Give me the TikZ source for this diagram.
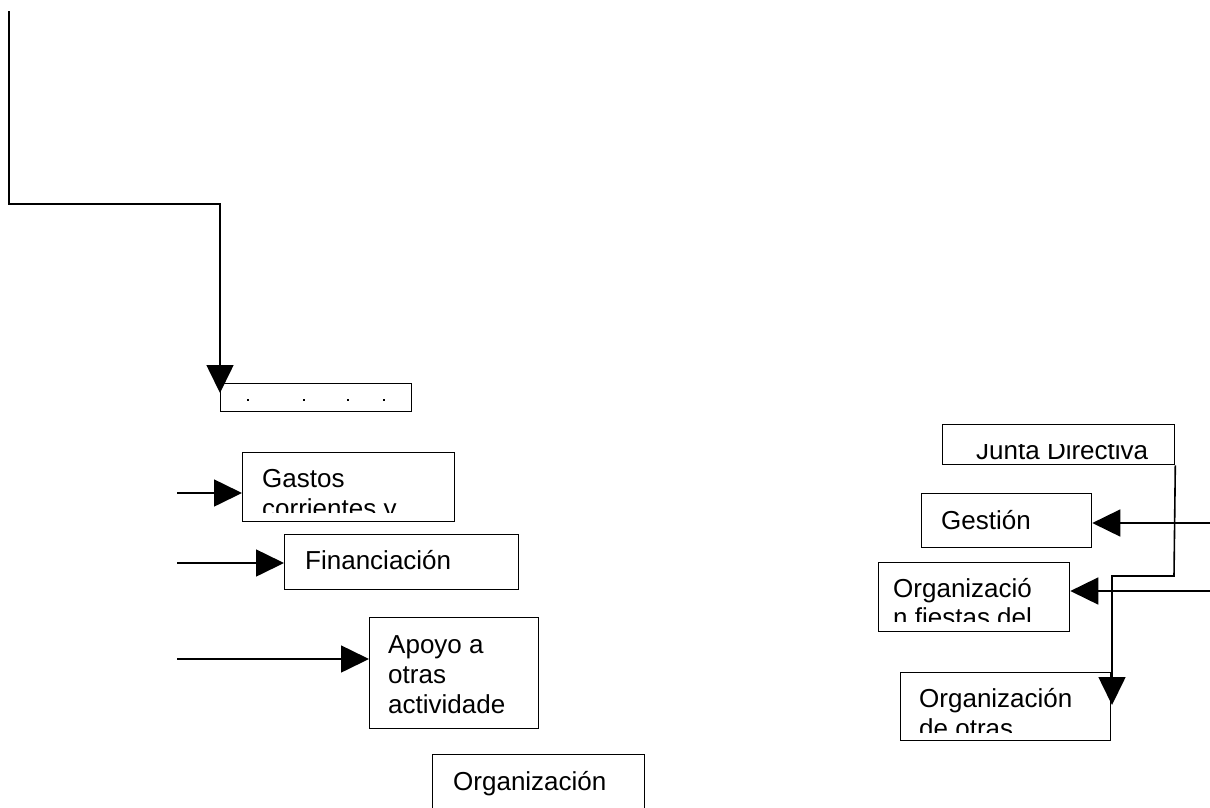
\documentclass[tikz,border=0pt]{standalone}
\usepackage{fontspec}
\setmainfont{Liberation Sans}
\usetikzlibrary{arrows.meta}
\begin{document}
\begin{tikzpicture}[x=1pt,y=-1pt,
  box/.style={draw, line width=1.3pt, inner sep=0pt, anchor=north west},
  lbl/.style={anchor=base west, inner sep=0pt, font=\fontsize{26}{30}\selectfont},
  link/.style={line width=1.6pt},
  arr/.style={link, -{Triangle[length=28pt,width=27pt]}}]
\clip (0,0) rectangle (1210,807);
% boxes
\node[box, minimum width=191pt, minimum height=28pt] (abox) at (220,383) {};
\node[box, minimum width=212pt, minimum height=69pt] (gastos) at (242,452) {};
\node[box, minimum width=234pt, minimum height=55pt] (finan) at (284,534) {};
\node[box, minimum width=169pt, minimum height=111pt] (apoyo) at (369,617) {};
\node[box, minimum width=212pt, minimum height=80pt] (orgb) at (432,754) {};
\node[box, minimum width=232pt, minimum height=40pt] (junta) at (942,424) {};
\node[box, minimum width=170pt, minimum height=54pt] (gestion) at (921,493) {};
\node[box, minimum width=191pt, minimum height=69pt] (fiestas) at (878,562) {};
\node[box, minimum width=210pt, minimum height=68pt] (otras) at (900,672) {};
% texts
\foreach \px in {248,304,348,384} {\fill (\px-1,399) rectangle (\px+1,401);}
\begin{scope}
\clip (242,452) rectangle (454,512);
\node[lbl] (tg1) at (262,487) {Gastos};
\node[lbl] (tg2) at (262,517) {corrientes y};
\end{scope}
\node[lbl] (tf) at (305,569) {Financiación};
\node[lbl] (ta1) at (388,653) {Apoyo a};
\node[lbl] (ta2) at (388,683) {otras};
\node[lbl] (ta3) at (388,713) {actividade};
\node[lbl] (tob) at (453,790) {Organización};
\begin{scope}
\clip (942,444) rectangle (1174,464);
\node[lbl] (tj) at (976,459) {Junta Directiva};
\end{scope}
\node[lbl] (tge) at (941,529) {Gestión};
\begin{scope}
\clip (878,562) rectangle (1069,621);
\node[lbl] (tfi1) at (893,597) {Organizació};
\node[lbl] (tfi2) at (893,626) {n fiestas del};
\end{scope}
\begin{scope}
\clip (900,672) rectangle (1110,732);
\node[lbl] (to1) at (919,707) {Organización};
\node[lbl] (to2) at (919,737) {de otras};
\end{scope}
% connectors
\coordinate (top0) at (9,11);
\coordinate (corner) at (9,204);
\coordinate (atip) at (220,393);
\draw[arr] (top0) -- (corner) -| (atip);
\coordinate (g0) at (177,493);
\draw[arr] (g0) -- (g0 -| gastos.west);
\coordinate (f0) at (177,563);
\draw[arr] (f0) -- (f0 -| finan.west);
\coordinate (ap0) at (177,659);
\draw[arr] (ap0) -- (ap0 -| apoyo.west);
\coordinate (ge0) at (1210,523);
\draw[arr] (ge0) -- (ge0 -| gestion.east);
\coordinate (fi0) at (1210,591);
\draw[arr] (fi0) -- (fi0 -| fiestas.east);
\coordinate (jbend) at (1174,576);
\coordinate (jtip) at (1112,705);
\draw[arr] (junta.south east) -- (jbend) -| (jtip);
\end{tikzpicture}
\end{document}
